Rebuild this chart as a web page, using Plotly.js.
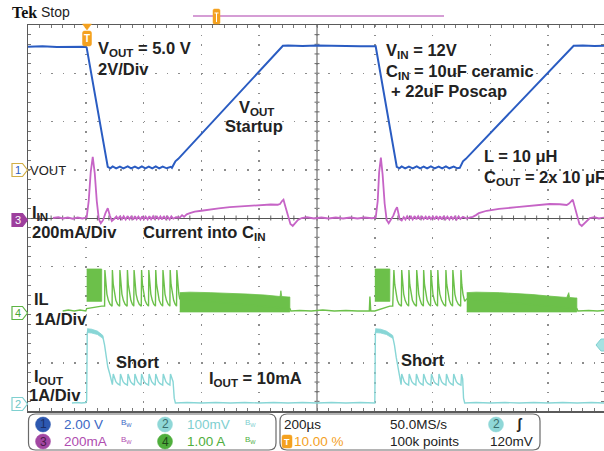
<!DOCTYPE html>
<html><head><meta charset="utf-8">
<script src="https://cdn.plot.ly/plotly-3.0.1.min.js"></script>
<style>html,body{margin:0;padding:0;overflow:hidden;background:#fff}#c{width:604px;height:451px}</style>
</head><body><div id="c"></div>
<script>
// ---------------- DATA (time in µs, trigger at 0) ----------------
// Channel 1: VOUT (V)
const voutT = [-200,-150,-100,-50,0,3,76,85,93,105,118,130,145,157,170,182,194,206,218,230,242,254,266,280,294,298,310,320,682,700,750,800,850,900,950,1003,1076,1085,1093,1105,1118,1131,1145,1157,1169,1181,1194,1207,1221,1233,1246,1258,1273,1285,1294,1305,1315,1688,1720,1760,1793];
const voutV = [5.10,5.12,5.09,5.11,5.10,5.06,0.12,0.06,0.14,0.06,0.13,0.06,0.14,0.06,0.13,0.06,0.14,0.06,0.13,0.06,0.14,0.06,0.13,0.06,0.12,0.08,0.35,0.45,5.14,5.15,5.13,5.15,5.13,5.14,5.12,5.12,0.12,0.06,0.14,0.06,0.13,0.06,0.14,0.06,0.13,0.06,0.14,0.06,0.13,0.06,0.14,0.06,0.13,0.06,0.08,0.35,0.45,5.14,5.15,5.13,5.14];

// Channel 3: I_IN (mA)
const iinT = [-114,-95,-80,-62,-45,-28,-12,0,3,10,17,24,31,38,45,52,60,68,76,83,90,98,106,112,118,125,131,138,145,151,157,164,170,176,182,189,195,201,207,214,220,226,233,239,245,252,258,264,270,277,283,290,296,303,312,325,333,340,349,360,377,400,429,460,498,530,567,600,619,640,664,672,679,684,690,699,708,716,725,734,747,765,790,815,840,865,890,915,940,965,990,1003,1010,1015,1021,1027,1034,1041,1048,1056,1064,1072,1077,1086,1093,1100,1106,1112,1119,1125,1131,1138,1144,1150,1157,1163,1169,1176,1182,1188,1194,1201,1207,1213,1220,1226,1232,1239,1245,1251,1258,1264,1270,1277,1283,1290,1296,1305,1318,1330,1339,1350,1360,1387,1430,1491,1550,1605,1640,1664,1672,1679,1685,1692,1700,1708,1716,1725,1735,1744,1760,1775,1793];
const iinMA = [0,3,-2,2,-3,2,-2,0,2,70,190,253,185,70,-5,-22,-8,20,41,10,-12,-4,6,-6,8,-5,7,-6,8,-5,6,-7,8,-5,6,-6,7,-5,6,-6,8,-5,7,-6,8,-5,6,-6,8,-5,6,-6,7,-3,3,2,12,5,15,20,26,30,36,40,45,48,52,54,55,56,55,58,70,76,50,8,-25,-33,-22,-8,0,3,-2,2,-2,2,-2,2,-2,2,-1,1,70,190,250,180,60,-8,-22,-5,10,35,45,-5,-10,4,-6,7,-5,6,-6,8,-5,7,-6,8,-5,6,-6,7,-5,6,-6,8,-5,7,-6,8,-5,6,-6,7,-5,6,-6,7,-4,5,-2,3,5,12,20,30,38,45,52,58,57,54,60,70,76,45,5,-25,-33,-22,-8,0,3,-2,1];

// Channel 4: IL (A) — line part
const ilT = [-80,-60,-40,-20,0,3,55,62,65,66,69,73,78,84,91,92,95,99,104,110,117,118,121,125,130,136,143,144,147,151,156,161,166,167,170,174,179,185,192,193,196,200,205,211,217,218,221,225,230,235,241,242,245,249,254,260,266,267,270,274,279,285,291,292,295,299,304,309,314,315,318,322,325,706,710,740,780,820,860,900,940,975,981,983,986,1000,1052,1062,1066,1069,1073,1078,1084,1092,1093,1096,1100,1105,1111,1117,1118,1121,1125,1130,1137,1144,1145,1148,1152,1157,1162,1168,1169,1172,1176,1181,1187,1193,1194,1197,1201,1206,1211,1217,1218,1221,1225,1231,1238,1245,1246,1249,1253,1258,1263,1269,1270,1273,1277,1282,1289,1297,1298,1301,1305,1311,1318,1699,1703,1740,1770,1793];
const ilA = [0,0.02,0,0.02,0,0.05,0.1,0.1,0.1,0.85,0.55,0.35,0.22,0.14,0.1,0.85,0.55,0.35,0.22,0.14,0.1,0.85,0.55,0.35,0.22,0.14,0.1,0.85,0.55,0.35,0.22,0.14,0.1,0.85,0.55,0.35,0.22,0.14,0.1,0.85,0.55,0.35,0.22,0.14,0.1,0.85,0.55,0.35,0.22,0.14,0.1,0.85,0.55,0.35,0.22,0.14,0.1,0.85,0.55,0.35,0.22,0.14,0.1,0.85,0.55,0.35,0.22,0.14,0.1,0.85,0.55,0.35,0.25,0.05,0,0.01,0,0.02,0,0.01,0,0.01,0,0.3,0,0,0.1,0.1,0.85,0.55,0.35,0.22,0.14,0.1,0.85,0.55,0.35,0.22,0.14,0.1,0.85,0.55,0.35,0.22,0.14,0.1,0.85,0.55,0.35,0.22,0.14,0.1,0.85,0.55,0.35,0.22,0.14,0.1,0.85,0.55,0.35,0.22,0.14,0.1,0.85,0.55,0.35,0.22,0.14,0.1,0.85,0.55,0.35,0.22,0.14,0.1,0.85,0.55,0.35,0.22,0.14,0.1,0.85,0.55,0.35,0.2,0.25,0.05,0,0.01,0,0.01];
// IL dense switching regions (upper / lower envelopes, A)
const ilDense1T = [3,55],      ilDense1Hi = [0.87,0.87], ilDense1Lo = [0.2,0.2];
const ilDense2T = [1000,1052], ilDense2Hi = [0.87,0.87], ilDense2Lo = [0.2,0.2];
const ilBand1T  = [325,360,430,500,560,620,660,672,675,678,700,706];
const ilBand1Hi = [0.38,0.39,0.38,0.37,0.35,0.33,0.31,0.30,0.42,0.30,0.29,0.29];
const ilBand1Lo = [-0.02,-0.02,-0.02,-0.02,-0.02,-0.02,-0.02,-0.02,-0.02,-0.02,-0.02,-0.02];
const ilBand2T  = [1318,1350,1432,1500,1547,1600,1650,1664,1671,1674,1693,1699];
const ilBand2Hi = [0.38,0.39,0.38,0.36,0.34,0.31,0.29,0.28,0.38,0.28,0.27,0.27];
const ilBand2Lo = [-0.02,-0.02,-0.02,-0.02,-0.02,-0.02,-0.02,-0.02,-0.02,-0.02,-0.02,-0.02];

// Channel 2: IOUT (A)
const ioutT = [-48,-30,-15,0,3,5,8,20,35,50,59,65,70,76,83,88,92,95,99,104,110,118,120,124,129,135,144,146,150,155,161,168,170,174,179,185,191,193,197,202,208,217,219,223,228,234,240,242,246,251,257,266,268,272,277,283,291,293,297,302,306,310,350,400,450,500,550,600,650,700,750,800,850,900,950,1000,1002,1005,1020,1040,1062,1068,1074,1080,1086,1089,1091,1093,1097,1102,1108,1117,1119,1123,1128,1134,1142,1144,1148,1153,1159,1167,1169,1173,1178,1184,1194,1196,1200,1205,1211,1220,1222,1226,1231,1237,1246,1248,1252,1257,1263,1271,1273,1277,1282,1288,1298,1300,1304,1307,1311,1350,1400,1450,1500,1550,1600,1650,1700,1750,1793];
const ioutA = [0,0.01,0,0.01,0.05,1.45,1.52,1.50,1.48,1.43,1.37,1.2,0.95,0.75,0.6,0.45,0.38,0.6,0.5,0.44,0.4,0.37,0.6,0.5,0.44,0.4,0.37,0.6,0.5,0.44,0.4,0.37,0.6,0.5,0.44,0.4,0.37,0.6,0.5,0.44,0.4,0.37,0.6,0.5,0.44,0.4,0.37,0.6,0.5,0.44,0.4,0.37,0.6,0.5,0.44,0.4,0.37,0.6,0.5,0.44,0.1,0,0.01,0,0.01,0,0.01,0,0.01,0,0.01,0,0.01,0,0.01,0,1.45,1.52,1.50,1.46,1.37,1.2,0.95,0.75,0.6,0.45,0.38,0.6,0.5,0.44,0.4,0.37,0.6,0.5,0.44,0.4,0.37,0.6,0.5,0.44,0.4,0.37,0.6,0.5,0.44,0.4,0.37,0.6,0.5,0.44,0.4,0.37,0.6,0.5,0.44,0.4,0.37,0.6,0.5,0.44,0.4,0.37,0.6,0.5,0.44,0.4,0.37,0.6,0.5,0.1,0,0.01,0,0.01,0,0.01,0,0.01,0,0.01,0];
// IOUT high plateau thickness (envelopes)
const ioutHi1T = [5,20,40,59], ioutHi1U = [1.54,1.53,1.49,1.40], ioutHi1L = [1.46,1.45,1.42,1.34];
const ioutHi2T = [1002,1020,1040,1062], ioutHi2U = [1.54,1.53,1.49,1.40], ioutHi2L = [1.46,1.45,1.42,1.34];

// ---------------- STYLE ----------------
const FONT = 'Liberation Sans, Arial, Helvetica, sans-serif';
const C_BLUE = '#2a5cc2', C_MAG = '#c664c6', C_GRN = '#6cc04a', C_CYAN = '#88d6d6', C_ORG = '#f4a11f';
const ML = 28, MT = 25, PLW = 576, PLH = 386;
const px = x => (x - ML) / PLW;
const py = y => (MT + PLH - y) / PLH;

function poly(t, hi, lo) {
  return {x: t.concat(t.slice().reverse()), y: hi.concat(lo.slice().reverse())};
}
function polyTrace(t, hi, lo, color, yaxis) {
  const p = poly(t, hi, lo);
  return {x: p.x, y: p.y, yaxis, type: 'scatter', mode: 'lines', fill: 'toself', fillcolor: color,
          line: {color: color, width: 0.8}, hoverinfo: 'skip', showlegend: false};
}

const traces = [
  polyTrace(ilDense1T, ilDense1Hi, ilDense1Lo, C_GRN, 'y3'),
  polyTrace(ilDense2T, ilDense2Hi, ilDense2Lo, C_GRN, 'y3'),
  polyTrace(ilBand1T, ilBand1Hi, ilBand1Lo, C_GRN, 'y3'),
  polyTrace(ilBand2T, ilBand2Hi, ilBand2Lo, C_GRN, 'y3'),
  {x: ilT, y: ilA, yaxis: 'y3', type: 'scatter', mode: 'lines', line: {color: C_GRN, width: 1.4}, showlegend: false},
  polyTrace(ioutHi1T, ioutHi1U, ioutHi1L, C_CYAN, 'y4'),
  polyTrace(ioutHi2T, ioutHi2U, ioutHi2L, C_CYAN, 'y4'),
  {x: ioutT, y: ioutA, yaxis: 'y4', type: 'scatter', mode: 'lines', line: {color: C_CYAN, width: 1.4}, showlegend: false},
  {x: iinT, y: iinMA, yaxis: 'y', type: 'scatter', mode: 'lines', line: {color: C_MAG, width: 1.8}, showlegend: false},
  {x: voutT, y: voutV, yaxis: 'y2', type: 'scatter', mode: 'lines', line: {color: C_BLUE, width: 2}, showlegend: false}
];

// ---------------- SHAPES ----------------
const shapes = [];
// centre crosshair
shapes.push({type: 'line', xref: 'x', yref: 'paper', x0: 800, x1: 800, y0: 0, y1: 1, line: {color: '#555', width: 1}, layer: 'below'});
for (let t = -160; t < 1793; t += 40) {
  shapes.push({type: 'line', xref: 'x', yref: 'paper', x0: t, x1: t, y0: py(220.5), y1: py(215.5), line: {color: '#666', width: 1}, layer: 'below'});
}
for (let v = -760; v < 800; v += 40) {
  shapes.push({type: 'line', xref: 'paper', yref: 'y', x0: px(314.5), x1: px(319.5), y0: v, y1: v, line: {color: '#666', width: 1}, layer: 'below'});
}
function rrect(x0, y0, x1, y1, r) {
  return `M${px(x0 + r)},${py(y0)} L${px(x1 - r)},${py(y0)} Q${px(x1)},${py(y0)} ${px(x1)},${py(y0 + r)} ` +
         `L${px(x1)},${py(y1 - r)} Q${px(x1)},${py(y1)} ${px(x1 - r)},${py(y1)} L${px(x0 + r)},${py(y1)} ` +
         `Q${px(x0)},${py(y1)} ${px(x0)},${py(y1 - r)} L${px(x0)},${py(y0 + r)} Q${px(x0)},${py(y0)} ${px(x0 + r)},${py(y0)} Z`;
}
function pathPx(pts) {
  return 'M' + pts.map(p => px(p[0]) + ',' + py(p[1])).join(' L') + ' Z';
}
const P = (path, fill, stroke, w) => ({type: 'path', xref: 'paper', yref: 'paper', path, fillcolor: fill, line: {color: stroke, width: w}, layer: 'above'});
// trigger marker on top of graticule
shapes.push(P(pathPx([[82.5, 24], [91.5, 24], [87, 30]]), C_ORG, C_ORG, 0.5));
shapes.push(P(rrect(82.5, 31, 91.5, 46, 2), C_ORG, C_ORG, 0.5));
// record view bar at very top
shapes.push({type: 'line', xref: 'paper', yref: 'paper', x0: px(193), x1: px(444), y0: py(16), y1: py(16), line: {color: '#c77cc7', width: 1.5}});
shapes.push(P(rrect(213, 9, 220, 24, 1.5), C_ORG, C_ORG, 0.5));
shapes.push({type: 'line', xref: 'paper', yref: 'paper', x0: px(216.5), x1: px(216.5), y0: py(13), y1: py(22), line: {color: '#fff', width: 1}});
shapes.push({type: 'line', xref: 'paper', yref: 'paper', x0: px(214.5), x1: px(218.5), y0: py(13), y1: py(13), line: {color: '#fff', width: 1}});
// channel markers on left
function chanMark(yc, stroke, fill) {
  return P(pathPx([[12, yc - 6.5], [22.5, yc - 6.5], [27.5, yc], [22.5, yc + 6.5], [12, yc + 6.5]]), fill, stroke, 1.2);
}
shapes.push(chanMark(170, '#d2ae45', '#ffffff'));
shapes.push(chanMark(220, '#9d3f9d', '#9d3f9d'));
shapes.push(chanMark(313, '#5db443', '#ffffff'));
shapes.push(chanMark(404, '#7fd0d0', '#ffffff'));
// trigger level marker on right
shapes.push(P(pathPx([[605, 339], [601, 339], [596, 345], [601, 351], [605, 351]]), '#a6e2e2', '#7fd0d0', 1));
// bottom status boxes
shapes.push(P(rrect(28.5, 414, 276, 450, 7), 'rgba(0,0,0,0)', '#6a6a6a', 1.2));
shapes.push(P(rrect(280, 414, 540, 450, 7), 'rgba(0,0,0,0)', '#6a6a6a', 1.2));
function circ(xc, yc, r, fill) {
  return {type: 'circle', xref: 'paper', yref: 'paper', x0: px(xc - r), x1: px(xc + r), y0: py(yc + r), y1: py(yc - r), fillcolor: fill, line: {color: fill, width: 0.5}, layer: 'above'};
}
shapes.push(circ(43, 424.5, 7.5, '#2d58b0'));
shapes.push(circ(165, 424.5, 7.5, '#8fd7d7'));
shapes.push(circ(43, 441.5, 7.5, '#a247a2'));
shapes.push(circ(165, 441.5, 7.5, '#4fae3c'));
shapes.push(circ(496, 424.5, 7.5, '#8fd7d7'));
shapes.push(P(rrect(282, 435, 292, 448, 2), C_ORG, C_ORG, 0.5));

// ---------------- TEXT ----------------
function txt(text, x, y, size, color, extra) {
  return Object.assign({text, x: px(x), y: py(y), xref: 'paper', yref: 'paper', xanchor: 'left', yanchor: 'middle',
    showarrow: false, borderpad: 0, borderwidth: 0, font: {family: FONT, size, color}}, extra || {});
}
const B = s => '<b>' + s + '</b>';
const BIG = 16.5;
const annotations = [
  txt(B('Tek'), 12, 12, 16, '#111', {font: {family: 'Liberation Serif, Times New Roman, serif', size: 16, color: '#111'}}),
  txt('Stop', 41, 12, 14, '#222'),
  txt(B('V<sub>OUT</sub> = 5.0 V'), 98, 49, BIG, '#222'),
  txt(B('2V/Div'), 98, 69, BIG, '#222'),
  txt(B('V<sub>OUT</sub>'), 239, 108, BIG, '#222'),
  txt(B('Startup'), 225, 126, BIG, '#222'),
  txt(B('V<sub>IN</sub> = 12V'), 386, 51, BIG, '#222'),
  txt(B('C<sub>IN</sub> = 10uF ceramic'), 386, 72, BIG, '#222'),
  txt(B('+ 22uF Poscap'), 391, 90.5, BIG, '#222'),
  txt(B('L = 10 μH'), 484, 156, BIG, '#222'),
  txt(B('C<sub>OUT</sub> = 2x 10 μF'), 484, 178, BIG, '#222'),
  txt('VOUT', 30, 170, 13, '#222'),
  txt(B('I<sub>IN</sub>'), 32, 213, BIG, '#222'),
  txt(B('200mA/Div'), 32, 232, BIG, '#222'),
  txt(B('Current into C<sub>IN</sub>'), 143, 233, BIG, '#222'),
  txt(B('IL'), 34, 299, BIG, '#222'),
  txt(B('1A/Div'), 35, 319, BIG, '#222'),
  txt(B('I<sub>OUT</sub>'), 34, 376.5, BIG, '#222'),
  txt(B('1A/Div'), 29, 394.5, BIG, '#222'),
  txt(B('Short'), 116, 362, BIG, '#222'),
  txt(B('I<sub>OUT</sub> = 10mA'), 209, 379, BIG, '#222'),
  txt(B('Short'), 401, 360, BIG, '#222'),
  // channel marker numbers
  txt('1', 14.5, 170, 11, C_BLUE),
  txt('3', 14.5, 220, 11, '#ffffff'),
  txt('4', 14.5, 313, 11, '#4aa834'),
  txt('2', 14.5, 404, 11, '#6cc8c8'),
  txt(B('T'), 87, 38.5, 10, '#ffffff', {xanchor: 'center'}),
  // status bar
  txt('1', 43, 424.5, 12, '#1b2e66', {xanchor: 'center'}),
  txt('2', 165, 424.5, 12, '#3a6e6e', {xanchor: 'center'}),
  txt('3', 43, 441.5, 12, '#4a1a4a', {xanchor: 'center'}),
  txt('4', 165, 441.5, 12, '#1f4a1a', {xanchor: 'center'}),
  txt('2', 496, 424.5, 12, '#3a6e6e', {xanchor: 'center'}),
  txt(B('T'), 287, 441.5, 9, '#ffffff', {xanchor: 'center'}),
  txt('2.00 V', 64, 424.5, 13.5, '#3b67c4'),
  txt('B<sub>W</sub>', 121, 423, 8, '#3b67c4'),
  txt('100mV', 187, 424.5, 13.5, '#7fcfcf'),
  txt('B<sub>W</sub>', 245, 423, 8, '#7fcfcf'),
  txt('200mA', 64, 441.5, 13.5, '#b04db0'),
  txt('B<sub>W</sub>', 121, 440, 8, '#b04db0'),
  txt('1.00 A', 187, 441.5, 13.5, '#4fae3c'),
  txt('B<sub>W</sub>', 245, 440, 8, '#4fae3c'),
  txt('200µs', 284, 424.5, 13.5, '#222'),
  txt('50.0MS/s', 390, 424.5, 13.5, '#222'),
  txt(B('ʃ'), 516, 424.5, 14, '#222'),
  txt('10.00 %', 294, 441.5, 13.5, C_ORG),
  txt('100k points', 390, 441.5, 13.5, '#222'),
  txt('120mV', 490, 441.5, 13.5, '#222')
];

// ---------------- LAYOUT ----------------
const layout = {
  width: 604, height: 451,
  margin: {l: ML, r: 0, t: MT, b: 451 - MT - PLH, pad: 0},
  paper_bgcolor: '#fff', plot_bgcolor: '#fff',
  showlegend: false,
  xaxis: {range: [-200, 1793], tick0: -200, dtick: 200, showticklabels: false, zeroline: false,
    showgrid: true, gridcolor: '#8c8c8c', gridwidth: 1.5, griddash: '1.5px,8.15px',
    showline: true, linecolor: '#5a5a5a', linewidth: 1.5, mirror: 'allticks',
    ticks: 'inside', ticklen: 3, tickcolor: '#777', tickwidth: 1,
    minor: {tick0: -200, dtick: 40, ticks: 'inside', ticklen: 3, tickcolor: '#777', tickwidth: 1, showgrid: false},
    fixedrange: true},
  yaxis: {range: [-800, 800], tick0: -800, dtick: 200, showticklabels: false,
    zeroline: true, zerolinecolor: '#555', zerolinewidth: 1,
    showgrid: true, gridcolor: '#8c8c8c', gridwidth: 1.5, griddash: '1.5px,10.05px',
    showline: true, linecolor: '#5a5a5a', linewidth: 1.5, mirror: 'allticks',
    ticks: 'inside', ticklen: 3, tickcolor: '#777', tickwidth: 1,
    minor: {tick0: -800, dtick: 40, ticks: 'inside', ticklen: 3, tickcolor: '#777', tickwidth: 1, showgrid: false},
    fixedrange: true},
  yaxis2: {overlaying: 'y', range: [-10, 6], visible: false, fixedrange: true},
  yaxis3: {overlaying: 'y', range: [-2.073, 5.927], visible: false, fixedrange: true},
  yaxis4: {overlaying: 'y', range: [-0.166, 7.834], visible: false, fixedrange: true},
  shapes, annotations
};

Plotly.newPlot('c', traces, layout, {displayModeBar: false, staticPlot: true});
</script>
</body></html>
